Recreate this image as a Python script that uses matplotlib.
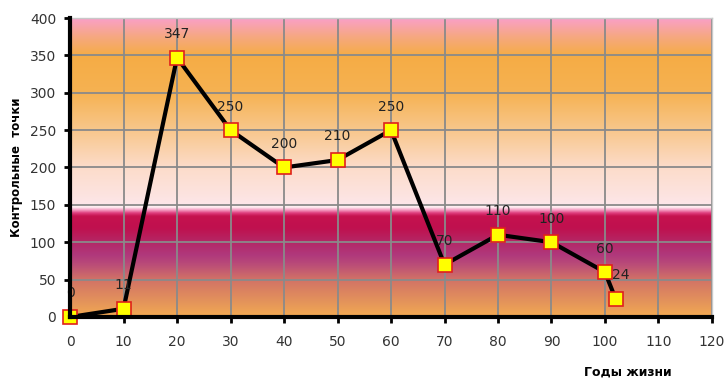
import numpy as np
import matplotlib.pyplot as plt
from matplotlib.colors import LinearSegmentedColormap

# данные графика
years = [0, 10, 20, 30, 40, 50, 60, 70, 80, 90, 100, 102]
points = [0, 11, 347, 250, 200, 210, 250, 70, 110, 100, 60, 24]
labels = ["0", "11", "347", "250", "200", "210", "250", "70", "110", "100", "60", "24"]
x_ticks = list(range(0, 121, 10))
y_ticks = list(range(0, 401, 50))

# фон: градиент по высоте (значение y -> цвет)
bg_stops = [
    (0, "#F2AA52"), (23, "#E2905C"), (50, "#D27266"), (70, "#BA4C78"),
    (83, "#B0387C"), (100, "#B42866"), (119, "#C0104E"), (135, "#C5124F"),
    (139, "#DE3C7C"), (143, "#F49CC2"), (147, "#FFF0F4"), (150, "#FDE6EA"),
    (160, "#FDE4E2"), (200, "#FCDCCA"), (250, "#F8C78C"), (300, "#F6B252"),
    (350, "#F5AC45"), (375, "#F6A880"), (400, "#F9A0C8"),
]
cmap = LinearSegmentedColormap.from_list(
    "bg", [(v / 400, c) for v, c in bg_stops], N=1024)

fig = plt.figure(figsize=(7.28, 3.79), dpi=100)
ax = fig.add_axes([0.0962, 0.1636, 0.8818, 0.7889])

grad = np.linspace(0, 1, 800).reshape(-1, 1)
ax.imshow(grad, cmap=cmap, origin="lower", aspect="auto",
          extent=[0, 120, 0, 400], zorder=0)

ax.set_xlim(0, 120)
ax.set_ylim(0, 400)
ax.set_xticks(x_ticks)
ax.set_yticks(y_ticks)
ax.grid(True, color="#8a8a8a", linewidth=1.3, zorder=1)

ax.plot(years, points, color="black", linewidth=3, zorder=3,
        marker="s", markersize=9.5, markerfacecolor="#FFFF00",
        markeredgecolor="#E0201C", markeredgewidth=1.2, clip_on=False)

for x, y, t in zip(years, points, labels):
    dx = 4 if t == "24" else 0
    ax.annotate(t, (x, y), xytext=(dx, 17), textcoords="offset points",
                ha="center", va="center", fontsize=10, color="#222222",
                zorder=4)

for s in ["top", "right"]:
    ax.spines[s].set_color("#c8c8c8")
    ax.spines[s].set_linewidth(1)
for s in ["left", "bottom"]:
    ax.spines[s].set_color("black")
    ax.spines[s].set_linewidth(3)
    ax.spines[s].set_zorder(5)

ax.tick_params(axis="both", direction="out", length=4, width=2,
               color="black", labelsize=10, labelcolor="#333333")
ax.tick_params(axis="x", pad=9)
ax.tick_params(axis="y", pad=6)

fig.text(0.022, 0.56, "Контрольные  точки", rotation=90, ha="center",
         va="center", fontsize=8.5, fontweight="bold")
fig.text(0.862, 0.018, "Годы жизни", ha="center", va="center",
         fontsize=9, fontweight="bold")

fig.savefig("out.png", dpi=100)
